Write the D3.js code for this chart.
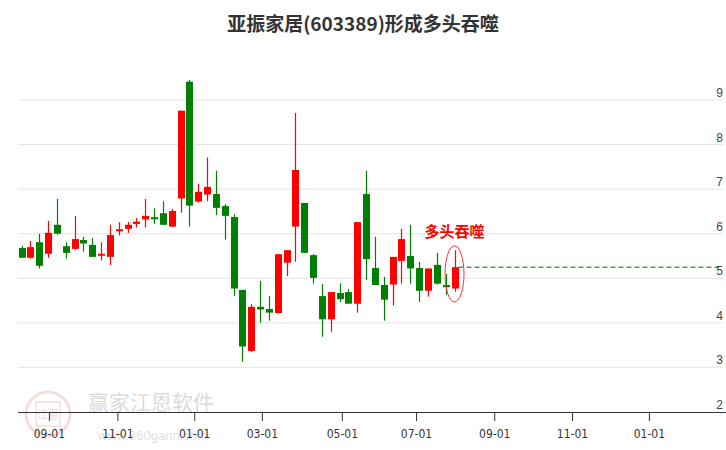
<!DOCTYPE html>
<html><head><meta charset="utf-8">
<script src="https://cdn.jsdelivr.net/npm/d3@7"></script>
<style>html,body{margin:0;padding:0;background:#fff;}</style>
</head><body>
<svg id="c" width="726" height="450"></svg>
<script>
const title = "亚振家居(603389)形成多头吞噬";
const annotation = "多头吞噬";
// weekly candles: open, close, high, low
const opens  = [5.68,5.46,5.81,5.55,6.20,5.72,5.66,5.86,5.75,5.51,5.48,6.08,6.11,6.22,6.32,6.37,6.46,6.16,6.79,9.41,6.72,6.88,6.89,6.62,6.375,4.74,3.37,4.36,4.31,4.22,5.35,6.16,6.69,5.52,4.60,4.08,4.67,4.69,4.43,6.89,5.23,4.85,4.86,5.39,5.50,5.23,4.72,5.30,4.85,4.77];
const closes = [5.46,5.70,5.28,6.02,6.00,5.57,5.88,5.78,5.48,5.55,5.97,6.10,6.20,6.27,6.40,6.35,6.20,6.51,8.76,6.63,6.94,7.05,6.58,6.40,4.77,3.47,4.36,4.30,4.23,5.54,5.63,7.43,5.57,5.01,4.08,4.69,4.53,4.43,6.26,5.43,4.85,4.52,5.48,5.88,5.22,4.72,5.22,4.88,4.80,5.25];
const highs  = [5.73,5.84,6.00,6.29,6.78,5.81,6.40,5.93,5.90,5.81,6.20,6.26,6.26,6.35,6.78,6.57,6.73,6.55,8.76,9.45,7.12,7.71,7.41,6.67,6.44,4.74,4.42,4.94,4.60,5.54,5.63,8.71,6.69,5.54,4.87,4.69,4.89,4.76,6.26,7.41,5.93,5.03,5.48,6.11,6.20,5.37,5.22,5.57,5.10,5.63];
const lows   = [5.46,5.44,5.22,5.46,5.98,5.44,5.64,5.60,5.48,5.40,5.30,5.96,6.02,6.14,6.14,6.22,6.20,6.15,6.47,6.16,6.70,6.73,6.42,5.87,4.60,3.13,3.35,4.00,4.05,4.21,5.05,5.37,5.57,4.88,3.69,3.80,4.47,4.43,4.23,4.96,4.85,4.05,4.39,4.88,4.88,4.47,4.59,4.86,4.63,4.70];
const tickLabels = ["09-01","11-01","01-01","03-01","05-01","07-01","09-01","11-01","01-01"];
const tickWeeks  = [3.1,10.85,19.55,27.2,36.25,44.65,53.5,62.3,71.0];
const yTicks = [2,3,4,5,6,7,8,9];

const svg = d3.select("#c");
const x = d3.scaleLinear().domain([0, 49]).range([21.5, 454.5]);
const y = d3.scaleLinear().domain([2, 9]).range([412, 100]);
const left = 18, right = 723;

// watermark
const wm = svg.append("g").attr("opacity", 0.35);
wm.append("circle").attr("cx", 48).attr("cy", 414).attr("r", 22).attr("fill","none").attr("stroke","#e8a0a0").attr("stroke-width",3);
wm.append("rect").attr("x", 36).attr("y", 402).attr("width", 24).attr("height", 24).attr("fill","none").attr("stroke","#e8a0a0").attr("stroke-width",1.5);
wm.append("text").attr("x", 48).attr("y", 419).attr("text-anchor","middle").attr("font-size",11).attr("fill","#d08080")
  .attr("font-family","Noto Sans CJK SC").text("江恩");
wm.append("text").attr("x", 88).attr("y", 410).attr("font-size",21).attr("fill","#999")
  .attr("font-family","Noto Sans CJK SC").text("赢家江恩软件");
wm.append("text").attr("x", 98).attr("y", 440).attr("font-size",13).attr("fill","#aaa")
  .attr("font-family","Liberation Sans, Arial").text("www.360gann.com");

// gridlines
svg.append("g").selectAll("line").data(yTicks.filter(d => d > 2)).join("line")
  .attr("x1", left).attr("x2", right).attr("y1", d => y(d)).attr("y2", d => y(d))
  .attr("stroke", "#e4e4e4").attr("stroke-width", 1);
// y labels
svg.append("g").selectAll("text").data(yTicks).join("text")
  .attr("x", 723).attr("y", d => y(d) - 3).attr("text-anchor","end")
  .attr("font-size", 12).attr("fill", "#444").attr("font-family","Liberation Sans, Arial")
  .text(d => d);

// x axis
const xAxis = d3.axisBottom(x).tickValues(tickWeeks).tickSize(9)
  .tickFormat((d, i) => tickLabels[i]);
const gx = svg.append("g").attr("transform", `translate(0,${y(2)})`).call(xAxis);
gx.select(".domain").remove();
gx.selectAll(".tick line").attr("stroke", "#333");
gx.selectAll(".tick text").attr("font-size", 12).attr("fill", "#333")
  .attr("font-family","DejaVu Sans Condensed, Liberation Sans").attr("dy", "1.2em");
svg.append("line").attr("x1", left).attr("x2", 726).attr("y1", y(2)+0.5).attr("y2", y(2)+0.5)
  .attr("stroke", "#333").attr("stroke-width", 1.2);

// candles
const idx = d3.range(opens.length);
const col = i => closes[i] >= opens[i] ? "#ff0000" : "#008000";
const cg = svg.append("g");
cg.selectAll("line").data(idx).join("line")
  .attr("x1", i => Math.round(x(i)) + 0.5).attr("x2", i => Math.round(x(i)) + 0.5)
  .attr("y1", i => y(highs[i])).attr("y2", i => y(lows[i]))
  .attr("stroke", col).attr("stroke-width", 1.2);
cg.selectAll("rect").data(idx).join("rect")
  .attr("x", i => Math.round(x(i)) - 3)
  .attr("width", 7)
  .attr("y", i => y(Math.max(opens[i], closes[i])))
  .attr("height", i => Math.max(2, Math.abs(y(opens[i]) - y(closes[i]))))
  .attr("fill", col);

// dashed line at last close
const last = opens.length - 1;
svg.append("line").attr("x1", x(last) + 4).attr("x2", 719)
  .attr("y1", y(closes[last])).attr("y2", y(closes[last]))
  .attr("stroke", "#006400").attr("stroke-dasharray", "5,3").attr("stroke-width", 1);

// ellipse + annotation
svg.append("ellipse").attr("cx", x(last)).attr("cy", y((highs[last] + lows[last]) / 2) + 3)
  .attr("rx", 9.5).attr("ry", 28).attr("fill", "none").attr("stroke", "#ff3030").attr("stroke-width", 1);
svg.append("text").attr("x", x(last)).attr("y", 237).attr("text-anchor", "middle")
  .attr("font-size", 15).attr("font-weight", "bold").attr("fill", "#ff0000")
  .attr("font-family", "Noto Sans CJK SC").text(annotation);

// title
svg.append("text").attr("x", 363).attr("y", 31).attr("text-anchor", "middle")
  .attr("font-size", 19).attr("font-weight", "bold").attr("fill", "#333")
  .attr("font-family", "Noto Sans CJK SC").text(title);
</script>
</body></html>
